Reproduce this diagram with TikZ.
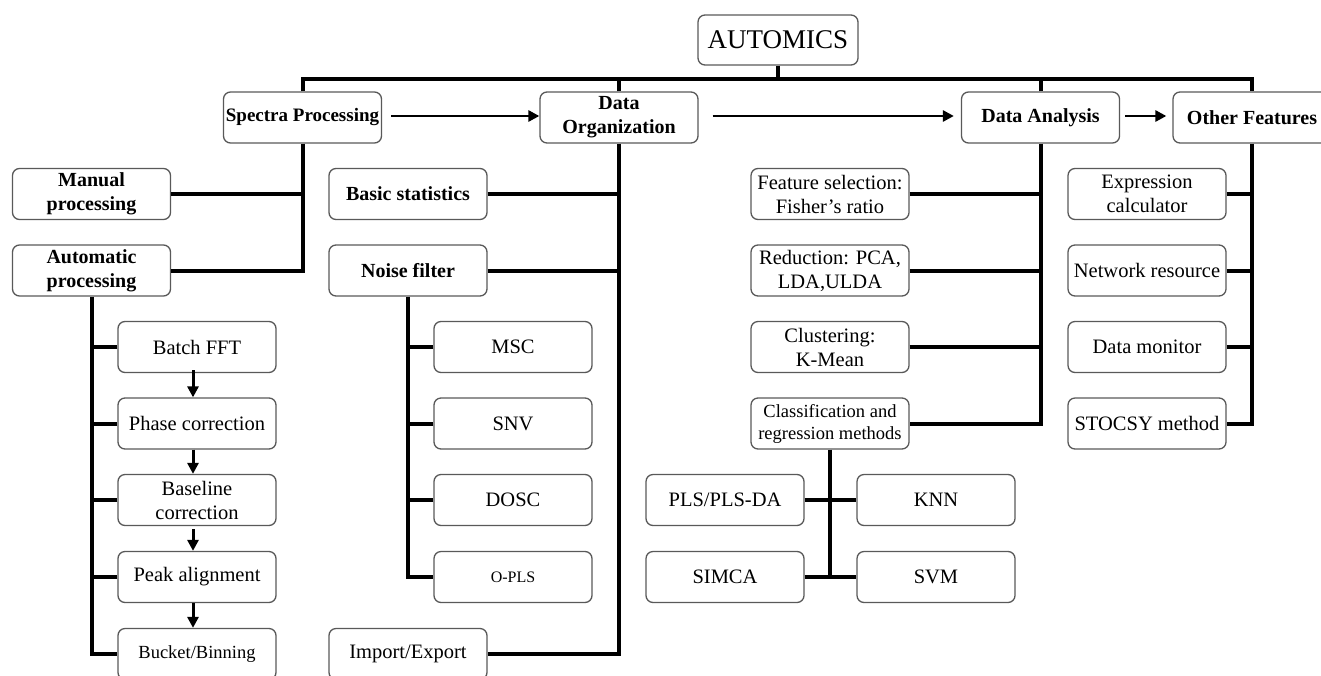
\documentclass[tikz,border=0pt]{standalone}
\usepackage{fontspec}
\setmainfont{Liberation Serif}
\usetikzlibrary{arrows.meta}
\begin{document}
\begin{tikzpicture}[x=1pt,y=-1pt,
  box/.style={draw=black!65, line width=1.3pt, rounded corners=7pt, minimum width=158pt, minimum height=51pt, inner sep=0pt, align=center, font=\fontsize{20.5}{24}\selectfont},
  bbox/.style={box, font=\fontsize{20}{24}\selectfont\bfseries},
  conn/.style={line width=4pt, line cap=butt},
  arr/.style={line width=2.8pt, -{Triangle[length=11pt,width=11pt]}},
  varr/.style={line width=3pt, -{Triangle[length=11pt,width=11pt]}}
]
\useasboundingbox (0,0) rectangle (1321,675);
% top level
\node[box, minimum width=160pt, minimum height=50pt, font=\fontsize{27}{30}\selectfont] (auto) at (778,40) {AUTOMICS};
\node[bbox, font=\fontsize{19}{24}\selectfont\bfseries] (sp) at (302.5,117.5) {Spectra Processing};
\node[bbox] (do) at (619,117.5) {Data\\Organization};
\node[bbox] (da) at (1040.5,117.5) {Data Analysis};
\node[bbox] (of) at (1252,117.5) {Other Features};
% spectra processing
\node[bbox] (man) at (91.5,194) {Manual\\processing};
\node[bbox] (autp) at (91.5,270.5) {Automatic\\processing};
\node[box] (bf) at (197,347) {Batch FFT};
\node[box] (pc) at (197,423.5) {Phase correction};
\node[box] (bc) at (197,500) {Baseline\\correction};
\node[box] (pa) at (197,577) {Peak alignment};
\node[box, font=\fontsize{18.5}{22}\selectfont] (bb) at (197,654) {Bucket/Binning};
% data organization
\node[bbox] (bs) at (408,194) {Basic statistics};
\node[bbox] (nf) at (408,270.5) {Noise filter};
\node[box] (msc) at (513,347) {MSC};
\node[box] (snv) at (513,423.5) {SNV};
\node[box] (dosc) at (513,500) {DOSC};
\node[box, font=\fontsize{16}{18}\selectfont] (opls) at (513,577) {O-PLS};
\node[box] (ie) at (408,654) {Import/Export};
% data analysis
\node[box] (fs) at (830,194) {Feature selection:\\Fisher’s ratio};
\node[box] (red) at (830,270.5) {Reduction: PCA,\\LDA,ULDA};
\node[box] (clu) at (830,347) {Clustering:\\K-Mean};
\node[box, font=\fontsize{18.5}{22}\selectfont] (cls) at (830,423.5) {Classification and\\regression methods};
\node[box] (pls) at (725,500) {PLS/PLS-DA};
\node[box] (simca) at (725,577) {SIMCA};
\node[box] (knn) at (936,500) {KNN};
\node[box] (svm) at (936,577) {SVM};
% other features
\node[box] (ec) at (1147,194) {Expression\\calculator};
\node[box] (nr) at (1147,270.5) {Network resource};
\node[box] (dm) at (1147,347) {Data monitor};
\node[box] (st) at (1147,423.5) {STOCSY method};
% bus
\coordinate (busL) at (302.5,79);
\draw[conn] (sp.north) -- (busL) -| (of.north);
\draw[conn] (auto.south) -- (auto.south |- busL);
\draw[conn] (do.north) -- (do.north |- busL);
\draw[conn] (da.north) -- (da.north |- busL);
% spectra branches
\draw[conn] (sp.south) |- (autp.east);
\draw[conn] (man.east) -- (man.east -| sp.south);
\draw[conn] (autp.south) |- (bb.west);
\foreach \n in {bf,pc,bc,pa} \draw[conn] (\n.west) -- (\n.west -| autp.south);
% data organization branches
\draw[conn] (do.south) |- (ie.east);
\foreach \n in {bs,nf} \draw[conn] (\n.east) -- (\n.east -| do.south);
\draw[conn] (nf.south) |- (opls.west);
\foreach \n in {msc,snv,dosc} \draw[conn] (\n.west) -- (\n.west -| nf.south);
% data analysis branches
\draw[conn] (da.south) |- (cls.east);
\foreach \n in {fs,red,clu} \draw[conn] (\n.east) -- (\n.east -| da.south);
\draw[conn] (cls.south) -- (cls.south |- svm.west);
\draw[conn] (pls.east) -- (knn.west);
\draw[conn] (simca.east) -- (svm.west);
% other features branches
\draw[conn] (of.south) |- (st.east);
\foreach \n in {ec,nr,dm} \draw[conn] (\n.east) -- (\n.east -| of.south);
% horizontal arrows
\draw[arr] ([xshift=9pt,yshift=1.5pt]sp.east) -- ([yshift=1.5pt]do.west);
\draw[arr] ([xshift=14pt,yshift=1.5pt]do.east) -- ([xshift=-7pt,yshift=1.5pt]da.west);
\draw[arr] ([xshift=5pt,yshift=1.5pt]da.east) -- ([xshift=-6pt,yshift=1.5pt]of.west);
% vertical arrows
\draw[varr] ([xshift=-4pt,yshift=3pt]bf.south) -- ([xshift=-4pt]pc.north);
\draw[varr] ([xshift=-4pt]pc.south) -- ([xshift=-4pt]bc.north);
\draw[varr] ([xshift=-4pt,yshift=-3pt]bc.south) -- ([xshift=-4pt]pa.north);
\draw[varr] ([xshift=-4pt]pa.south) -- ([xshift=-4pt]bb.north);
\end{tikzpicture}
\end{document}
